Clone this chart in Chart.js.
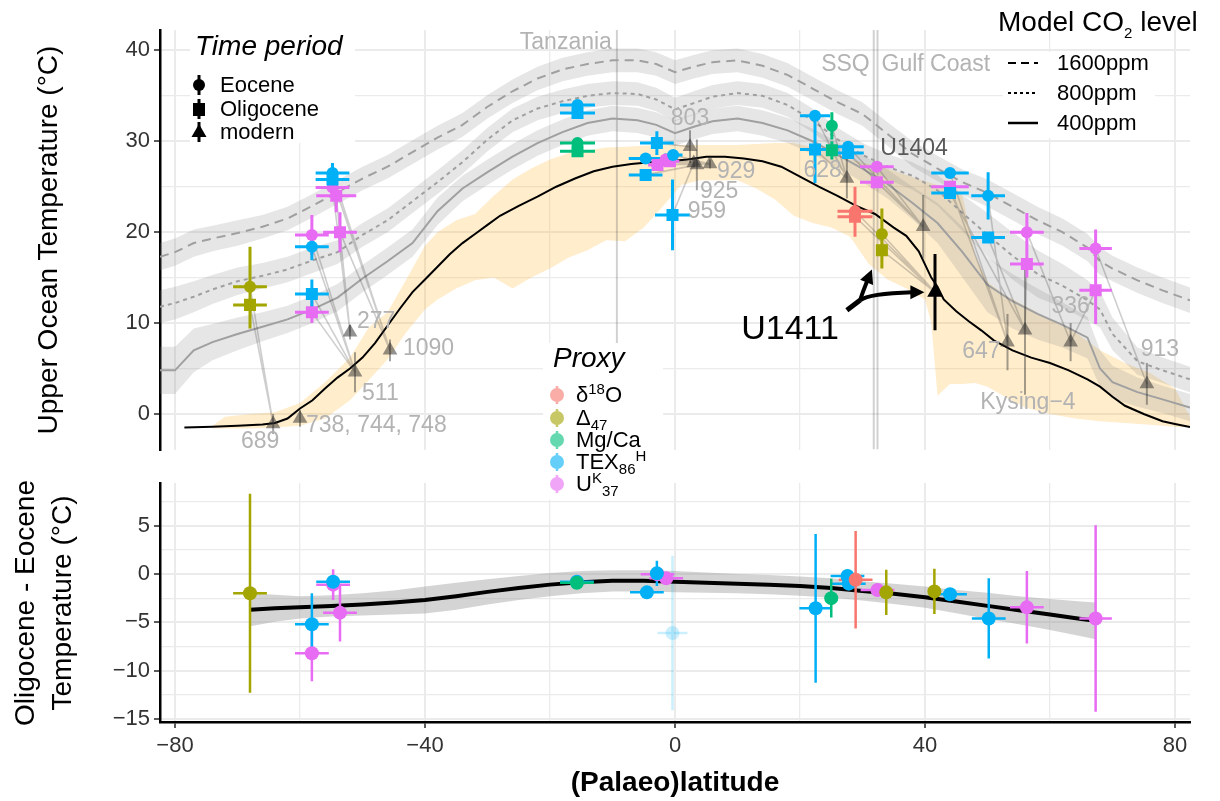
<!DOCTYPE html>
<html>
<head>
<meta charset="utf-8">
<title>Upper ocean temperature by (palaeo)latitude</title>
<script src="https://cdn.jsdelivr.net/npm/chart.js@4.4.1/dist/chart.umd.min.js"></script>
<style>
  html, body { margin: 0; padding: 0; background: #fff; }
  #wrap { position: relative; width: 1220px; height: 801px; overflow: hidden; background: #fff;
          font-family: "Liberation Sans", Arial, Helvetica, sans-serif; color: #000; }
  #wrap canvas { position: absolute; left: 0; }
  #overlay { position: absolute; left: 0; top: 0; }
  .txt { position: absolute; white-space: nowrap; line-height: 1; }
  .axt { font-size: 28px; }
  .rot { transform: translate(-50%, -50%) rotate(-90deg); }
  .lt { font-size: 28px; transform: translateY(-50%); }
  .li { font-size: 22px; transform: translateY(-50%); }
  sub, sup { font-size: 15px; line-height: 0; }
</style>
</head>
<body>
<div id="wrap">
  <canvas id="topChart" width="1220" height="458" style="top:0"></canvas>
  <canvas id="diffChart" width="1220" height="346" style="top:455px"></canvas>

  <svg id="overlay" width="1220" height="801">
    <!-- legend backgrounds -->
    <rect x="190" y="30" width="165" height="113" fill="#fff"/>
    <rect x="1003" y="52" width="152" height="86" fill="#fff"/>
    <rect x="543" y="343" width="120" height="157" fill="#fff"/>
    <!-- Time period keys -->
    <line x1="199" y1="75" x2="199" y2="95" stroke="#000" stroke-width="3"/>
    <circle cx="199" cy="85" r="6" fill="#000"/>
    <line x1="199" y1="99" x2="199" y2="119" stroke="#000" stroke-width="3"/>
    <rect x="193" y="103" width="12" height="13" fill="#000"/>
    <line x1="199" y1="122" x2="199" y2="142" stroke="#000" stroke-width="3"/>
    <polygon points="199,124 206.5,137 191.5,137" fill="#000"/>
    <!-- Model CO2 keys -->
    <line x1="1008" y1="63" x2="1038" y2="63" stroke="#000" stroke-width="2" stroke-dasharray="8,5"/>
    <line x1="1008" y1="93" x2="1038" y2="93" stroke="#000" stroke-width="2" stroke-dasharray="3,3"/>
    <line x1="1008" y1="123" x2="1038" y2="123" stroke="#000" stroke-width="2.5"/>
    <!-- Proxy keys -->
    <g opacity="0.6">
      <line x1="557" y1="386" x2="557" y2="404" stroke="#F8766D" stroke-width="2.5"/><circle cx="557" cy="395" r="7" fill="#F8766D"/>
      <line x1="557" y1="409" x2="557" y2="427" stroke="#A3A500" stroke-width="2.5"/><circle cx="557" cy="418" r="7" fill="#A3A500"/>
      <line x1="557" y1="431" x2="557" y2="449" stroke="#00BF7D" stroke-width="2.5"/><circle cx="557" cy="440" r="7" fill="#00BF7D"/>
      <line x1="557" y1="453" x2="557" y2="471" stroke="#00B0F6" stroke-width="2.5"/><circle cx="557" cy="462" r="7" fill="#00B0F6"/>
      <line x1="557" y1="475" x2="557" y2="493" stroke="#E76BF3" stroke-width="2.5"/><circle cx="557" cy="484" r="7" fill="#E76BF3"/>
    </g>
  </svg>

  <!-- axis titles -->
  <div class="txt axt rot" style="left:48px;top:240px">Upper Ocean Temperature (°C)</div>
  <div class="txt axt rot" style="left:25px;top:603px">Oligocene - Eocene</div>
  <div class="txt axt rot" style="left:62px;top:603px">Temperature (°C)</div>
  <div class="txt axt" style="left:675px;top:782px;transform:translate(-50%,-50%);font-weight:bold">(Palaeo)latitude</div>

  <!-- legends -->
  <div class="txt lt" style="left:195px;top:46px;font-style:italic">Time period</div>
  <div class="txt li" style="left:220px;top:85px">Eocene</div>
  <div class="txt li" style="left:220px;top:109px">Oligocene</div>
  <div class="txt li" style="left:220px;top:132px">modern</div>

  <div class="txt lt" style="left:998px;top:22px">Model CO<sub>2</sub> level</div>
  <div class="txt li" style="left:1057px;top:63px">1600ppm</div>
  <div class="txt li" style="left:1057px;top:93px">800ppm</div>
  <div class="txt li" style="left:1057px;top:123px">400ppm</div>

  <div class="txt lt" style="left:553px;top:358px;font-style:italic">Proxy</div>
  <div class="txt li" style="left:576px;top:395px">δ<sup>18</sup>O</div>
  <div class="txt li" style="left:576px;top:418px">Δ<sub>47</sub></div>
  <div class="txt li" style="left:576px;top:440px">Mg/Ca</div>
  <div class="txt li" style="left:576px;top:462px">TEX<sub>86</sub><sup>H</sup></div>
  <div class="txt li" style="left:576px;top:484px">U<sup>K</sup><sub>37</sub></div>
</div>

<script>
// ---------- axes ----------
const xMin = -82.4, xMax = 82.4;
const topYMin = -3.91, topYMax = 42.24;
const diffYMin = -15.32, diffYMax = 9.42;
const latTickLabels = [-80, -40, 0, 40, 80];
const tempTickLabels = [0, 10, 20, 30, 40];
const diffTickLabels = [-15, -10, -5, 0, 5];

// ---------- proxies ----------
const proxyNames  = ['d18O', 'D47', 'MgCa', 'TEX86H', 'UK37'];
const proxyColors = ['#F8766D', '#A3A500', '#00BF7D', '#00B0F6', '#E76BF3'];

// ---------- modern observed range (shaded band) ----------
const bandLat  = [-74,-72,-68,-64,-60, -56,-52,-49,-46,-43, -40,-38,-35,-32,-29, -26,-23,-20,-17,-14,
                  -11,-8,-5,-2,1, 4,7,10,13,16, 19,22,25,28,31, 34,37,40,41,42, 44,46,48,50,53,
                  56,60,64,68,72, 76,80,82.4];
const bandHigh = [-1.3,-0.3,0.0,0.2,1.2, 3.5,6.2,9.5,11.2,14.8, 18.5,20.0,21.3,22.0,24.0, 25.8,27.0,28.0,28.7,29.0,
                  29.3,29.4,29.5,29.6,29.6, 29.6,29.6,29.6,29.7,29.8, 29.8,29.3,28.7,28.0,27.5, 27.0,26.3,25.6,25.4,25.2,
                  24.9,24.0,17.5,14.5,13.0, 11.9,10.4,9.0,7.0,5.6, 4.5,2.8,-0.3];
const bandLow  = [-1.6,-1.6,-1.6,-1.5,-1.3, -0.5,1.5,3.7,6.0,9.0, 11.5,12.6,13.8,14.7,15.0, 13.8,15.0,16.0,17.2,18.0,
                  19.1,19.0,20.5,22.8,25.2, 25.7,25.7,25.7,24.8,23.6, 21.8,21.0,20.5,19.5,16.5, 14.8,13.8,12.6,10.0,2.0,
                  3.3,3.3,3.4,3.0,1.8, 0.7,0.0,-0.5,-0.8,-1.0, -1.2,-1.4,-1.5];

// ---------- modern zonal mean (black line) ----------
const modernLat  = [-78.5,-74,-70,-66,-64,-62,-60,-58,-56,-54,-52,-50,-48,-46,-44,-42,-40,-38,-36,-34,
                    -32,-30,-28,-25,-22,-19,-16,-13,-10,-7,-4,-1,2,5,8,11,14,17,20,23,
                    26,29,32,35,37,39,41,42,43,45,47,49,51,54,57,60,63,66,68,70,72,75,78,80,82.4];
const modernTemp = [-1.5,-1.4,-1.3,-1.15,-1.0,-0.5,0.6,1.5,2.8,4.0,5.0,6.2,7.8,9.7,11.6,13.4,14.8,16.2,17.6,18.8,
                    19.8,20.8,21.8,22.9,23.9,25.0,25.9,26.7,27.2,27.5,27.7,27.8,28.0,28.3,28.3,28.1,27.8,27.2,26.1,25.0,
                    24.0,22.9,22.0,20.5,19.6,17.9,15.0,14.0,12.6,11.3,10.2,9.2,8.1,7.0,6.2,5.6,4.8,3.8,3.0,1.9,
                    0.9,0.0,-0.8,-1.1,-1.45];

// ---------- model zonal means and spreads ----------
const modelLat = [-82.4,-80,-77,-74,-70,-66,-62,-58,-54,-50,-46,-42,-38,-34,-30,-26,-22,-18,-14,-10,-6,-3,0,
                  3,6,10,14,18,22,26,30,34,38,42,46,50,54,58,62,66,68,70,74,78,82.4];
const co2_1600 = [17.3,17.8,18.8,19.3,19.9,20.6,21.5,22.9,24.4,25.9,27.2,28.8,30.4,31.8,33.8,35.5,36.9,37.9,38.5,38.9,38.9,38.5,37.6,
                  38.2,38.7,38.9,38.3,37.3,35.8,34.3,33.0,30.8,28.6,27.0,25.5,24.3,22.8,21.3,20.0,18.3,16.8,16.0,14.7,13.6,12.5];
const co2_800  = [11.8,12.2,12.9,13.7,14.6,15.2,15.9,16.9,17.8,19.7,21.3,23.4,25.5,27.7,30.2,32.3,33.6,34.4,35.0,35.3,35.2,34.6,33.5,
                  34.2,34.9,35.3,35.0,34.0,32.3,30.2,28.5,27.2,26.2,24.6,22.1,19.7,17.4,15.4,14.1,12.5,11.5,8.8,5.8,4.8,3.8];
const co2_400  = [4.8,4.8,7.0,7.9,8.8,9.6,10.4,11.5,12.8,14.9,16.8,18.8,22.3,24.8,26.6,28.3,29.8,31.0,32.0,32.5,32.3,31.8,30.9,
                  31.6,32.2,32.5,32.0,31.2,30.0,28.5,27.0,25.3,23.2,21.0,17.8,14.2,12.4,11.0,9.8,8.4,5.0,3.5,2.4,1.6,0.7];
const spread_1600 = [1.5,1.5,1.5,1.4,1.4,1.3,1.3,1.3,1.3,1.3,1.3,1.3,1.3,1.3,1.3,1.3,1.3,1.3,1.3,1.3,1.3,1.3,1.3,
                     1.3,1.3,1.3,1.3,1.3,1.3,1.3,1.3,1.3,1.4,1.4,1.4,1.5,1.5,1.5,1.5,1.5,1.5,1.4,1.4,1.4,1.4];
const spread_800  = [1.8,1.8,1.7,1.6,1.5,1.4,1.4,1.4,1.3,1.3,1.3,1.3,1.3,1.3,1.3,1.3,1.3,1.3,1.3,1.3,1.3,1.3,1.3,
                     1.3,1.3,1.3,1.3,1.3,1.3,1.3,1.3,1.4,1.5,1.7,2.0,2.4,2.6,2.6,2.4,2.2,2.0,1.8,1.5,1.4,1.4];
const spread_400  = [2.6,2.6,2.4,2.0,1.8,1.6,1.5,1.5,1.5,1.5,1.5,1.5,1.5,1.4,1.4,1.4,1.4,1.4,1.4,1.4,1.4,1.4,1.4,
                     1.4,1.4,1.4,1.4,1.4,1.4,1.4,1.5,1.6,1.8,2.2,2.8,3.0,3.0,2.8,2.5,2.3,2.0,1.8,1.6,1.5,1.5];

// ---------- land sites without modern values (vertical lines) ----------
const siteLineLat   = [-9.3, 31.8, 32.4];
const siteLineNames = ['Tanzania', 'SSQ', 'Gulf Coast'];

// ---------- modern core-site temperatures (triangles) ----------
const siteNames = ['689', '738, 744, 748', '277', '511', '1090', '803', '925', '929', '959',
                   '628', 'U1404', 'U1411', '647', 'Kysing\u22124', '336', '913'];
const siteLat   = [-64.3, -60.0, -52.0, -51.2, -45.6, 2.4, 3.5, 5.6, 3.0, 27.5, 39.7, 41.6, 53.2, 56.0, 63.3, 75.5];
const siteTemp  = [-1.1, -0.5, 9.0, 4.6, 7.0, 29.4, 27.4, 27.5, 27.6, 25.9, 20.6, 13.4, 7.9, 9.2, 7.9, 3.3];
const siteErr   = [1.1, 0.9, 0.8, 2.2, 1.2, 1.8, 2.8, 0.5, 0.5, 2.2, 3.5, 4.2, 3.1, 7.1, 2.1, 2.3];
const highlightSite = 11;

// ---------- Eocene / Oligocene proxy temperatures ----------
const obsLat     = [-68,-68,-54.8,-54.8,-54.8,-54.2,-58.1,-58.1,-53.6,-58.1,-58.1,-15.6,-15.6,-15.6,-15.6,
                    -2.9,-4.7,-4.7,-2.8,-1.5,-0.8,-0.3,-0.4,22.4,22.4,25.1,25.1,27.7,27.7,32.3,32.3,
                    28.8,28.8,33.1,33.1,44,44,44,50.1,50.1,56.3,56.3,67.3,67.3];
const obsTemp    = [14.0,12.0,26.5,25.8,24.9,24.0,19.7,18.4,20.0,13.2,11.2,34.0,33.1,29.8,28.9,
                    29.8,28.1,26.3,27.4,28.0,27.8,28.5,21.9,32.8,29.1,31.7,29.0,29.4,28.7,27.2,25.5,
                    22.3,21.7,19.8,18.0,26.5,25.0,24.3,24.0,19.4,20.0,16.5,18.2,13.6];
const obsTempErr = [4.4,2.6,1.1,0.8,0.6,1.8,2.2,1.5,2.2,1.6,1.2,0.3,0.3,0.3,0.3,
                    1.3,0.3,0.3,0.5,0.4,0.4,0.3,3.9,0.3,3.7,1.5,1.0,0.3,0.3,0.3,0.3,
                    2.7,2.2,2.8,2.0,0.3,0.3,0.3,2.6,0.6,2.1,1.5,2.1,3.7];
const obsLatErr  = [2.7,2.7,2.7,2.7,2.7,3.2,2.7,2.7,2.7,2.7,2.7,2.8,2.8,2.8,2.8,
                    2.7,2.7,2.7,1.5,1.5,1.5,1.5,2.8,2.4,2.4,0.8,0.8,2.5,2.5,2.7,2.7,
                    2.8,2.8,0.3,0.3,3.0,3.0,3.0,2.7,2.7,2.7,2.7,2.6,2.6];
const obsProxy   = [1,1,3,3,4,4,4,3,4,3,4,3,3,2,2, 3,3,3,4,4,4,3,3,3,3,2,2,3,3,4,4, 0,0,1,1,3,4,3,3,3,4,4,4,4];
const obsPeriod  = ['E','O','E','O','E','O','E','E','O','O','O','E','O','E','O',
                    'O','E','O','O','E','O','E','O','E','O','E','O','E','O','E','O',
                    'E','O','E','O','E','O','O','E','O','E','O','E','O'];
const obsSite    = [0,0,4,4,2,2,3,3,4,3,3,-1,-1,-1,-1, 5,6,6,7,7,7,7,8,9,9,9,9,10,10,10,10,
                    11,11,11,11,12,12,13,12,13,14,13,15,14];

// ---------- Oligocene minus Eocene ----------
const diffLat    = [-68,-58.1,-58.1,-54.7,-54.7,-53.6,-15.7,-15.7,-4.5,-2.9,-2.8,-1.4,-0.4,22.5,25,
                    27.6,27.8,28.9,32.4,33.8,41.5,44,50.2,56.3,67.3];
const diffVal    = [-2.0,-5.2,-8.2,-0.8,-1.1,-4.0,-0.9,-0.8,-1.9,0.07,-0.03,-0.45,-6.1,-3.55,-2.5,
                    -0.2,-1.0,-0.6,-1.65,-1.9,-1.8,-2.1,-4.6,-3.45,-4.6];
const diffErr    = [10.3,3.2,2.9,0.4,1.6,3.0,0.4,0.4,0.3,1.3,0.3,0.3,8.0,7.7,2.0,
                    0.5,0.5,5.05,0.3,2.35,2.35,0.3,4.15,3.75,9.65];
const diffLatErr = [2.7,2.7,2.7,2.7,2.7,2.7,2.7,2.7,2.7,0.3,2.7,2.7,2.4,2.6,0.3,
                    2.7,2.7,2.7,2.7,0.3,0.3,2.7,2.7,2.7,2.6];
const diffProxy  = [1,3,4,3,4,4,2,3,3,3,4,4,3,3,2,3,3,0,4,1,1,3,3,4,4];
const diffExcluded = [false,false,false,false,false,false,false,false,false,false,false,false,true,
                      false,false,false,false,false,false,false,false,false,false,false,false];

// smooth fit through the differences
const smoothLat = [-68,-64,-60,-55,-50,-45,-40,-35,-30,-25,-20,-15,-10,-5,0,5,10,15,20,25,30,35,40,45,50,55,60,65,67.3];
const smoothVal = [-3.7,-3.55,-3.45,-3.3,-3.15,-2.95,-2.7,-2.3,-1.85,-1.45,-1.1,-0.85,-0.7,-0.7,-0.8,-0.9,-1.0,-1.1,
                   -1.25,-1.45,-1.75,-2.05,-2.4,-2.85,-3.3,-3.75,-4.2,-4.65,-4.85];
const smoothSe  = [1.7,1.4,1.15,1.1,1.15,1.25,1.4,1.4,1.3,1.25,1.2,1.15,1.1,1.1,1.1,1.05,1.0,1.0,1.0,1.0,
                   1.0,1.05,1.1,1.2,1.35,1.45,1.6,1.8,1.9];

// ---------- label placement (pixels, style only) ----------
const siteLabelDx    = [-13, 6, 7, 7, 13, 0, 3, 7, -6, -5, -43, 0, -7, 3, 0, 13];
const siteLabelDy    = [18, 7, -10, 22, -2, -28, 27, 8, 49, -8, -78, 0, 10, 72, -35, -34];
const siteLabelAlign = ['center','left','left','left','left','center','left','left','left',
                        'right','left', null,'right','center','center','center'];
const siteLineLabelT  = [40.9, 38.4, 38.4];
const siteLineLabelDx = [-5, -4, 4];
const siteLineAlign   = ['right', 'right', 'left'];
// U1411 call-out, in data coordinates
const calloutText = [18.4, 9.3];
const calloutTail = [27.5, 11.4];
const calloutFork = [29.6, 12.5];
const calloutUp   = [31.5, 15.9];
const calloutRight = [39.9, 13.4];

// ---------- styles ----------
Chart.defaults.font.family = '"Liberation Sans", Arial, Helvetica, sans-serif';
Chart.defaults.color = '#333';
const GRID = '#ebebeb';
const MODEL_GREY = '#a0a0a0';
const LABEL_GREY = '#b3b3b3';

function fmt(v) { return v < 0 ? '\u2212' + Math.abs(v) : String(v); }
function isMajor(labels, ctx) { return ctx.tick && labels.includes(ctx.tick.value); }
function gridOpts(labels, drawTicks) {
    return {
        color: GRID,
        lineWidth: ctx => isMajor(labels, ctx) ? 2 : 1.3,
        drawTicks: drawTicks,
        tickLength: 6,
        tickWidth: 1.6,
        tickColor: ctx => isMajor(labels, ctx) ? '#333' : 'rgba(0,0,0,0)'
    };
}
function tickOpts(labels, step, show) {
    return {
        display: show, stepSize: step, autoSkip: false, maxRotation: 0, includeBounds: false,
        font: { size: 22 }, color: '#333', padding: 4,
        callback: v => labels.includes(v) ? fmt(v) : ''
    };
}
// fixed axis box sizes, no label overhang padding
function fixSize(width, height) {
    return function (scale) {
        if (width !== null) scale.width = width;
        if (height !== null) scale.height = height;
        scale.paddingTop = 0; scale.paddingBottom = 0;
        scale.paddingLeft = 0; scale.paddingRight = 0;
    };
}

function lineDs(xs, ys, extra) {
    return Object.assign({
        data: xs.map((x, i) => ({ x: x, y: ys[i] })),
        borderWidth: 0, borderColor: 'rgba(0,0,0,0)', pointRadius: 0, fill: false, tension: 0
    }, extra);
}
// vertical + horizontal error bars as broken line segments
function errorSegments(lat, val, err, latErr, idx) {
    const pts = [];
    idx.forEach(i => {
        pts.push({ x: lat[i], y: val[i] - err[i] }, { x: lat[i], y: val[i] + err[i] }, { x: lat[i], y: null });
        pts.push({ x: lat[i] - latErr[i], y: val[i] }, { x: lat[i] + latErr[i], y: val[i] }, { x: lat[i], y: null });
    });
    return pts;
}

// ---------- top panel datasets ----------
const topDatasets = [];
topDatasets.push(lineDs(bandLat, bandLow, { order: 100 }));
topDatasets.push(lineDs(bandLat, bandHigh, { order: 100, fill: '-1', backgroundColor: 'rgba(255,165,0,0.2)' }));

[[co2_1600, spread_1600], [co2_800, spread_800], [co2_400, spread_400]].forEach(([m, s]) => {
    topDatasets.push(lineDs(modelLat, m.map((v, i) => v - s[i]), { order: 90 }));
    topDatasets.push(lineDs(modelLat, m.map((v, i) => v + s[i]),
        { order: 90, fill: '-1', backgroundColor: 'rgba(128,128,128,0.2)' }));
});

const vlinePts = [];
siteLineLat.forEach(lat => vlinePts.push({ x: lat, y: topYMin }, { x: lat, y: topYMax }, { x: lat, y: null }));
topDatasets.push({ data: vlinePts, borderColor: 'rgba(90,90,90,0.28)', borderWidth: 2, pointRadius: 0, fill: false, order: 85 });

topDatasets.push(lineDs(modelLat, co2_1600, { order: 80, borderWidth: 2, borderColor: MODEL_GREY, borderDash: [9, 6] }));
topDatasets.push(lineDs(modelLat, co2_800, { order: 80, borderWidth: 2, borderColor: MODEL_GREY, borderDash: [4, 4] }));
topDatasets.push(lineDs(modelLat, co2_400, { order: 80, borderWidth: 2, borderColor: MODEL_GREY }));

topDatasets.push(lineDs(modernLat, modernTemp, { order: 70, borderWidth: 2, borderColor: '#000' }));

const linkPts = [];
obsLat.forEach((lat, i) => {
    const s = obsSite[i];
    if (s < 0) return;
    linkPts.push({ x: lat, y: obsTemp[i] }, { x: siteLat[s], y: siteTemp[s] }, { x: lat, y: null });
});
topDatasets.push({ data: linkPts, borderColor: 'rgba(60,60,60,0.25)', borderWidth: 1.6, pointRadius: 0, fill: false, order: 60 });

const siteIdx = siteLat.map((_, i) => i);
const siteBar = idx => {
    const pts = [];
    idx.forEach(i => pts.push({ x: siteLat[i], y: siteTemp[i] - siteErr[i] }, { x: siteLat[i], y: siteTemp[i] + siteErr[i] }, { x: siteLat[i], y: null }));
    return pts;
};
topDatasets.push({ data: siteBar(siteIdx.filter(i => i !== highlightSite)), borderColor: 'rgba(50,50,50,0.45)',
                   borderWidth: 2, pointRadius: 0, fill: false, order: 50 });
topDatasets.push({ data: siteBar([highlightSite]), borderColor: '#000', borderWidth: 3, pointRadius: 0, fill: false, order: 50 });
topDatasets.push({
    data: siteLat.map((x, i) => ({ x: x, y: siteTemp[i] })), showLine: false,
    pointStyle: 'triangle', pointRadius: siteIdx.map(i => i === highlightSite ? 9 : 8.5),
    pointBackgroundColor: siteIdx.map(i => i === highlightSite ? '#000' : 'rgba(40,40,40,0.5)'),
    pointBorderWidth: 0, borderColor: 'rgba(0,0,0,0)', order: 45
});

proxyNames.forEach((name, p) => {
    const idx = obsLat.map((_, i) => i).filter(i => obsProxy[i] === p);
    topDatasets.push({ data: errorSegments(obsLat, obsTemp, obsTempErr, obsLatErr, idx),
                       borderColor: proxyColors[p], borderWidth: 3, pointRadius: 0, fill: false, order: 40 });
    topDatasets.push({
        data: idx.map(i => ({ x: obsLat[i], y: obsTemp[i] })), showLine: false,
        pointStyle: idx.map(i => obsPeriod[i] === 'E' ? 'circle' : 'rect'),
        pointRadius: idx.map(i => obsPeriod[i] === 'E' ? 6 : 8.5),
        pointBackgroundColor: proxyColors[p], pointBorderWidth: 0, borderColor: proxyColors[p], order: 30
    });
});

// labels and the U1411 call-out
const topLabels = {
    id: 'topLabels',
    afterDatasetsDraw(chart) {
        const { ctx, scales: { x, y } } = chart;
        const P = ([a, b]) => [x.getPixelForValue(a), y.getPixelForValue(b)];
        ctx.save();
        ctx.textBaseline = 'middle';
        ctx.font = '23px "Liberation Sans", Arial, sans-serif';
        siteNames.forEach((name, i) => {
            if (!siteLabelAlign[i]) return;
            ctx.fillStyle = i === 10 ? '#595959' : LABEL_GREY;
            ctx.textAlign = siteLabelAlign[i];
            ctx.fillText(name, x.getPixelForValue(siteLat[i]) + siteLabelDx[i], y.getPixelForValue(siteTemp[i]) + siteLabelDy[i]);
        });
        ctx.fillStyle = LABEL_GREY;
        siteLineNames.forEach((name, i) => {
            ctx.textAlign = siteLineAlign[i];
            ctx.fillText(name, x.getPixelForValue(siteLineLat[i]) + siteLineLabelDx[i], y.getPixelForValue(siteLineLabelT[i]));
        });

        // call-out
        ctx.fillStyle = '#000';
        ctx.textAlign = 'center';
        ctx.font = '34px "Liberation Sans", Arial, sans-serif';
        const tp = P(calloutText);
        ctx.fillText('U1411', tp[0], tp[1]);

        const t = P(calloutTail), f = P(calloutFork), u = P(calloutUp), r = P(calloutRight);
        ctx.strokeStyle = '#000';
        ctx.lineWidth = 5;
        ctx.lineCap = 'butt';
        ctx.beginPath(); ctx.moveTo(t[0], t[1]); ctx.lineTo(f[0], f[1]); ctx.stroke();

        const head = (tip, from) => {
            const a = Math.atan2(tip[1] - from[1], tip[0] - from[0]);
            const len = 14, hw = 7;
            const bx = tip[0] - len * Math.cos(a), by = tip[1] - len * Math.sin(a);
            ctx.beginPath();
            ctx.moveTo(tip[0], tip[1]);
            ctx.lineTo(bx + hw * Math.sin(a), by - hw * Math.cos(a));
            ctx.lineTo(bx - hw * Math.sin(a), by + hw * Math.cos(a));
            ctx.closePath();
            ctx.fill();
            return [bx + 2 * Math.cos(a), by + 2 * Math.sin(a)];
        };
        ctx.lineWidth = 4;
        // upward branch
        const cu = [f[0] + 3, f[1] - 9];
        const bu = head(u, cu);
        ctx.beginPath(); ctx.moveTo(f[0], f[1]); ctx.quadraticCurveTo(cu[0], cu[1], bu[0], bu[1]); ctx.stroke();
        // rightward branch
        const cr = [f[0] + 9, f[1] - 7];
        const br = head(r, [r[0] - 20, r[1]]);
        ctx.beginPath(); ctx.moveTo(f[0], f[1]); ctx.quadraticCurveTo(cr[0], cr[1], br[0], br[1]); ctx.stroke();
        ctx.restore();
    }
};

new Chart(document.getElementById('topChart'), {
    type: 'line',
    data: { datasets: topDatasets },
    options: {
        responsive: false, animation: false, devicePixelRatio: 1, events: [],
        layout: { padding: { left: 0, right: 30, top: 30, bottom: 0 } },
        plugins: { legend: { display: false }, tooltip: { enabled: false } },
        scales: {
            x: {
                type: 'linear', min: xMin, max: xMax,
                ticks: tickOpts(latTickLabels, 20, false),
                grid: gridOpts(latTickLabels, false),
                border: { display: false },
                afterFit: fixSize(null, 6)
            },
            y: {
                type: 'linear', min: topYMin, max: topYMax,
                ticks: tickOpts(tempTickLabels, 5, true),
                grid: gridOpts(tempTickLabels, true),
                border: { display: true, color: '#000', width: 2.5 },
                afterFit: fixSize(160, null)
            }
        }
    },
    plugins: [topLabels]
});

// ---------- bottom panel datasets ----------
const diffDatasets = [];
diffDatasets.push(lineDs(smoothLat, smoothVal.map((v, i) => v - smoothSe[i]), { order: 100 }));
diffDatasets.push(lineDs(smoothLat, smoothVal.map((v, i) => v + smoothSe[i]),
    { order: 100, fill: '-1', backgroundColor: 'rgba(153,153,153,0.42)' }));
diffDatasets.push(lineDs(smoothLat, smoothVal, { order: 90, borderWidth: 4, borderColor: '#000' }));

const fadedIdx = diffLat.map((_, i) => i).filter(i => diffExcluded[i]);
diffDatasets.push({ data: errorSegments(diffLat, diffVal, diffErr, diffLatErr, fadedIdx),
                    borderColor: 'rgba(0,176,246,0.2)', borderWidth: 2.5, pointRadius: 0, fill: false, order: 95 });
diffDatasets.push({ data: fadedIdx.map(i => ({ x: diffLat[i], y: diffVal[i] })), showLine: false,
                    pointRadius: 7, pointBackgroundColor: 'rgba(0,176,246,0.2)', pointBorderWidth: 0, order: 95 });

proxyNames.forEach((name, p) => {
    const idx = diffLat.map((_, i) => i).filter(i => diffProxy[i] === p && !diffExcluded[i]);
    diffDatasets.push({ data: errorSegments(diffLat, diffVal, diffErr, diffLatErr, idx),
                        borderColor: proxyColors[p], borderWidth: 2.5, pointRadius: 0, fill: false, order: 40 });
    diffDatasets.push({ data: idx.map(i => ({ x: diffLat[i], y: diffVal[i] })), showLine: false,
                        pointStyle: 'circle', pointRadius: 7,
                        pointBackgroundColor: proxyColors[p], pointBorderWidth: 0, borderColor: proxyColors[p], order: 30 });
});

new Chart(document.getElementById('diffChart'), {
    type: 'line',
    data: { datasets: diffDatasets },
    options: {
        responsive: false, animation: false, devicePixelRatio: 1, events: [],
        layout: { padding: { left: 0, right: 30, top: 28, bottom: 0 } },
        plugins: { legend: { display: false }, tooltip: { enabled: false } },
        scales: {
            x: {
                type: 'linear', min: xMin, max: xMax,
                ticks: Object.assign(tickOpts(latTickLabels, 20, true), { padding: 5 }),
                grid: gridOpts(latTickLabels, true),
                border: { display: true, color: '#000', width: 2.5 },
                afterFit: fixSize(null, 79)
            },
            y: {
                type: 'linear', min: diffYMin, max: diffYMax,
                ticks: tickOpts(diffTickLabels, 2.5, true),
                grid: gridOpts(diffTickLabels, true),
                border: { display: true, color: '#000', width: 2.5 },
                afterFit: fixSize(160, null)
            }
        }
    }
});
</script>
</body>
</html>
